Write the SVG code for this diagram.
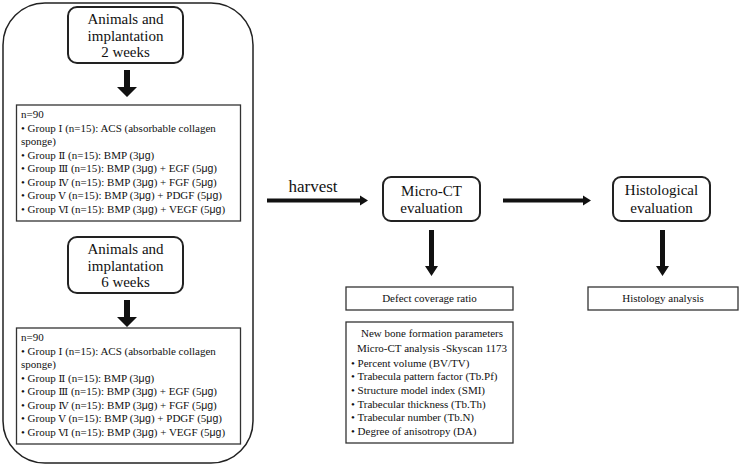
<svg xmlns="http://www.w3.org/2000/svg" width="742" height="470" viewBox="0 0 742 470">
<style>
text{font-family:"Liberation Serif","Times New Roman",serif;fill:#111}
.big{font-size:15px;text-anchor:middle}
.sm{font-size:11px}
.c{text-anchor:middle}
.rn{font-family:"DejaVu Serif","Liberation Serif",serif;font-size:10px}
.mu{font-family:"Liberation Sans",Arial,sans-serif;font-size:10.5px}
.rb{fill:#fff;stroke:#222;stroke-width:2}
.sb{fill:#fff;stroke:#333;stroke-width:1.3}
.arr{fill:#111;stroke:none}
.line{stroke:#111;stroke-width:4;fill:none}
</style>
<rect width="742" height="470" fill="#fff"/>
<g id="outer"><rect x="3" y="3" width="250" height="460" rx="42" fill="none" stroke="#222" stroke-width="1.5"/></g>
<g id="animals2">
<rect class="rb" x="68" y="7" width="115" height="56" rx="9"/>
<text class="big" x="125.5" y="24">Animals and</text>
<text class="big" x="125.5" y="40.5">implantation</text>
<text class="big" x="125.5" y="57">2 weeks</text>
</g>
<g id="groups2">
<rect class="sb" x="16.5" y="105" width="224" height="116"/>
<text class="sm" x="21" y="118">n=90</text>
<text class="sm" x="21" y="132">• Group <tspan class="rn">Ⅰ</tspan> (n=15): ACS (absorbable collagen</text>
<text class="sm" x="21" y="145">sponge)</text>
<text class="sm" x="21" y="159">• Group <tspan class="rn">Ⅱ</tspan>  (n=15): BMP (3<tspan class="mu">μg</tspan>)</text>
<text class="sm" x="21" y="172">• Group <tspan class="rn">Ⅲ</tspan> (n=15): BMP (3<tspan class="mu">μg</tspan>) + EGF (5<tspan class="mu">μg</tspan>)</text>
<text class="sm" x="21" y="186">• Group <tspan class="rn">Ⅳ</tspan> (n=15): BMP (3<tspan class="mu">μg</tspan>) + FGF (5<tspan class="mu">μg</tspan>)</text>
<text class="sm" x="21" y="199">• Group <tspan class="rn">Ⅴ</tspan> (n=15): BMP (3<tspan class="mu">μg</tspan>) + PDGF (5<tspan class="mu">μg</tspan>)</text>
<text class="sm" x="21" y="213">• Group <tspan class="rn">Ⅵ</tspan> (n=15): BMP (3<tspan class="mu">μg</tspan>) + VEGF (5<tspan class="mu">μg</tspan>)</text>
</g>
<g id="animals6">
<rect class="rb" x="68" y="237" width="115" height="56" rx="9"/>
<text class="big" x="125.5" y="254">Animals and</text>
<text class="big" x="125.5" y="270.5">implantation</text>
<text class="big" x="125.5" y="287">6 weeks</text>
</g>
<g id="groups6">
<rect class="sb" x="16.5" y="328" width="224" height="116"/>
<text class="sm" x="21" y="341">n=90</text>
<text class="sm" x="21" y="355">• Group <tspan class="rn">Ⅰ</tspan> (n=15): ACS (absorbable collagen</text>
<text class="sm" x="21" y="368">sponge)</text>
<text class="sm" x="21" y="382">• Group <tspan class="rn">Ⅱ</tspan>  (n=15): BMP (3<tspan class="mu">μg</tspan>)</text>
<text class="sm" x="21" y="395">• Group <tspan class="rn">Ⅲ</tspan> (n=15): BMP (3<tspan class="mu">μg</tspan>) + EGF (5<tspan class="mu">μg</tspan>)</text>
<text class="sm" x="21" y="409">• Group <tspan class="rn">Ⅳ</tspan> (n=15): BMP (3<tspan class="mu">μg</tspan>) + FGF (5<tspan class="mu">μg</tspan>)</text>
<text class="sm" x="21" y="422">• Group <tspan class="rn">Ⅴ</tspan> (n=15): BMP (3<tspan class="mu">μg</tspan>) + PDGF (5<tspan class="mu">μg</tspan>)</text>
<text class="sm" x="21" y="436">• Group <tspan class="rn">Ⅵ</tspan> (n=15): BMP (3<tspan class="mu">μg</tspan>) + VEGF (5<tspan class="mu">μg</tspan>)</text>
</g>
<g id="microct">
<rect class="rb" x="383" y="177" width="97" height="44" rx="8"/>
<text class="big" x="431.5" y="196">Micro-CT</text>
<text class="big" x="431.5" y="213">evaluation</text>
</g>
<g id="histo">
<rect class="rb" x="613" y="177" width="97" height="44" rx="8"/>
<text class="big" x="661.5" y="195">Histological</text>
<text class="big" x="661.5" y="213">evaluation</text>
</g>
<g id="defect">
<rect class="sb" x="346" y="287" width="167" height="23"/>
<text class="sm c" x="429.5" y="302">Defect coverage ratio</text>
</g>
<g id="histology">
<rect class="sb" x="588" y="287" width="150" height="23"/>
<text class="sm c" x="663" y="302">Histology analysis</text>
</g>
<g id="newbone">
<rect class="sb" x="346" y="322" width="167" height="121"/>
<text class="sm c" x="432" y="337">New bone formation parameters</text>
<text class="sm c" x="432" y="352">Micro-CT analysis -Skyscan 1173</text>
<text class="sm" x="351" y="367">• Percent volume (BV/TV)</text>
<text class="sm" x="351" y="380">• Trabecula pattern factor (Tb.Pf)</text>
<text class="sm" x="351" y="394">• Structure model index (SMI)</text>
<text class="sm" x="351" y="408">• Trabecular thickness (Tb.Th)</text>
<text class="sm" x="351" y="421">• Trabecular number (Tb.N)</text>
<text class="sm" x="351" y="435">• Degree of anisotropy (DA)</text>
</g>
<g id="connectors">
<polygon class="arr" points="124,70 130,70 130,87 137,87 127,97 117,87 124,87"/>
<polygon class="arr" points="124,300 130,300 130,317 137,317 127,327 117,317 124,317"/>
<polygon class="arr" points="429,230 434,230 434,266 438,266 431.5,276 425,266 429,266"/>
<polygon class="arr" points="660,230 665,230 665,266 669,266 662.5,276 656,266 660,266"/>
<line class="line" x1="267" y1="200.5" x2="362" y2="200.5"/>
<polygon class="arr" points="360,195.5 368,200.5 360,205.5"/>
<text x="313" y="192" style="font-size:17px;text-anchor:middle">harvest</text>
<line class="line" x1="503" y1="200.5" x2="585" y2="200.5"/>
<polygon class="arr" points="583,195.5 591,200.5 583,205.5"/>
</g>
</svg>
